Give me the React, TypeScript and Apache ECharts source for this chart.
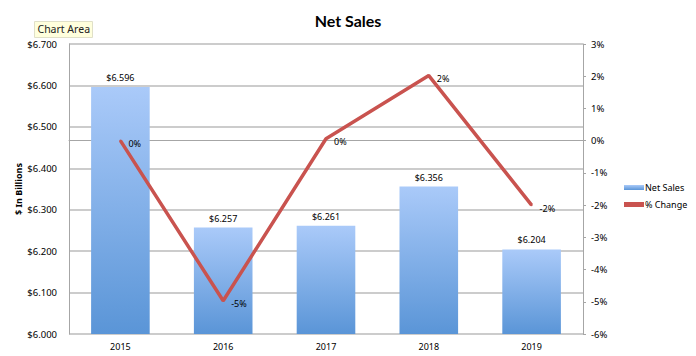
import React, { useEffect, useRef } from "react";
import * as echarts from "echarts";

const categories = ["2015", "2016", "2017", "2018", "2019"];
const netSales = [6.596, 6.257, 6.261, 6.356, 6.204];
const pctChange = [0, -4.97, 0.06, 2.02, -2.0];
const leftTicks = { min: 6.0, max: 6.7, interval: 0.1 };
const rightTicks = { min: -6, max: 3, interval: 1 };

const FONT = "Noto Sans";

export default function App() {
  const ref = useRef<HTMLDivElement>(null);
  useEffect(() => {
    if (!ref.current) return;
    document.body.style.margin = "0";
    const chart = echarts.init(ref.current, undefined, { renderer: "svg" });
    chart.setOption({
      animation: false,
      backgroundColor: "#ffffff",
      title: {
        text: "Net Sales",
        left: "center",
        top: 7,
        textStyle: { fontFamily: "Lato", fontWeight: "bold", fontSize: 16, color: "#000" },
      },
      graphic: [
        {
          type: "group",
          left: 34,
          top: 21,
          children: [
            {
              type: "rect",
              shape: { x: 0, y: 0, width: 58, height: 16 },
              style: { fill: "#FFFFDD", stroke: "#e0e0c8", lineWidth: 1 },
            },
            {
              type: "text",
              x: 3,
              y: 2,
              style: { text: "Chart Area", fontFamily: FONT, fontSize: 10.5, fill: "#222" },
            },
          ],
        },
      ],
      legend: {
        orient: "vertical",
        left: 619,
        top: 178,
        itemWidth: 20,
        itemHeight: 5,
        itemGap: 8,
        textStyle: { fontFamily: FONT, fontSize: 9, color: "#000", padding: [0, 0, 0, -4] },
        data: [
          { name: "Net Sales", icon: "rect" },
          { name: "% Change", icon: "rect" },
        ],
      },
      grid: { left: 69, right: 113, top: 44, bottom: 22 },
      xAxis: {
        type: "category",
        data: categories,
        axisLine: { lineStyle: { color: "#a6a6a6", width: 1 } },
        axisTick: { show: false },
        axisLabel: { fontFamily: FONT, fontSize: 9, color: "#000", margin: 8 },
      },
      yAxis: [
        {
          type: "value",
          min: leftTicks.min,
          max: leftTicks.max,
          interval: leftTicks.interval,
          name: "$ In Billions",
          nameLocation: "middle",
          nameGap: 46,
          nameMoveOverlap: false,
          nameTextStyle: { fontFamily: FONT, fontSize: 9, fontWeight: "bold", color: "#000" },
          axisLine: { show: true, lineStyle: { color: "#a6a6a6", width: 1 } },
          axisTick: { show: false },
          axisLabel: {
            fontFamily: FONT,
            fontSize: 9.5,
            color: "#000",
            margin: 12,
            formatter: (v: number) => "$" + v.toFixed(3),
          },
          splitLine: { show: true, lineStyle: { color: "#cccccc", width: 2 } },
        },
        {
          type: "value",
          min: rightTicks.min,
          max: rightTicks.max,
          interval: rightTicks.interval,
          position: "right",
          axisLine: { show: true, lineStyle: { color: "#a6a6a6", width: 1 } },
          axisTick: { show: true, length: 3, lineStyle: { color: "#a6a6a6" } },
          axisLabel: {
            fontFamily: FONT,
            fontSize: 9.5,
            color: "#000",
            margin: 8,
            formatter: (v: number) => Math.round(v) + "%",
          },
          splitLine: { show: false },
        },
      ],
      series: [
        {
          name: "Net Sales",
          type: "bar",
          data: netSales,
          barWidth: "57%",
          itemStyle: {
            color: new echarts.graphic.LinearGradient(0, 0, 0, 1, [
              { offset: 0, color: "#AACAF9" },
              { offset: 1, color: "#5A95D7" },
            ]),
          },
          label: {
            show: true,
            position: "top",
            distance: 5,
            fontFamily: FONT,
            fontSize: 9,
            color: "#000",
            formatter: (p: any) => "$" + p.value.toFixed(3),
          },
        },
        {
          name: "% Change",
          type: "line",
          yAxisIndex: 1,
          data: pctChange,
          symbol: "circle",
          symbolSize: 2,
          showSymbol: true,
          color: "#C9534F",
          itemStyle: { color: "#C9534F" },
          lineStyle: { color: "#C9534F", width: 3.5 },
          label: {
            show: true,
            position: "right",
            offset: [2, 3],
            fontFamily: FONT,
            fontSize: 9,
            color: "#000",
            formatter: (p: any) => Math.round(p.value) + "%",
          },
        },
      ],
    });
    return () => chart.dispose();
  }, []);
  return <div ref={ref} style={{ width: 696, height: 356 }} />;
}
